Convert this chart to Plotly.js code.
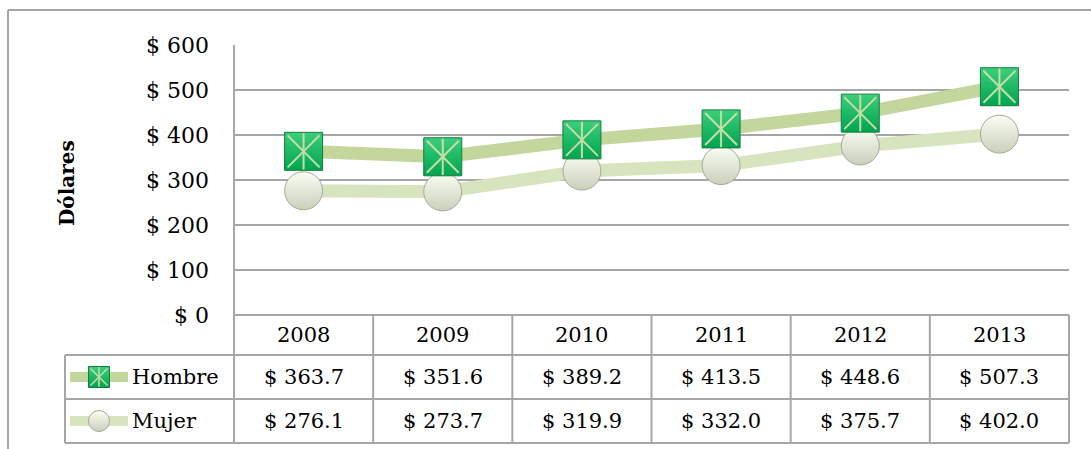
<!DOCTYPE html>
<html>
<head>
<meta charset="utf-8">
<script src="https://cdn.plot.ly/plotly-3.0.1.min.js"></script>
<style>
html,body{margin:0;padding:0;background:#fff;}
#chart{width:1091px;height:449px;}
</style>
</head>
<body>
<div id="chart"></div>
<script>
// ---- data ----
const years = ['2008', '2009', '2010', '2011', '2012', '2013'];
const hombre = [363.7, 351.6, 389.2, 413.5, 448.6, 507.3];
const mujer = [276.1, 273.7, 319.9, 332.0, 375.7, 402.0];
const seriesNames = ['Hombre', 'Mujer'];
const yTicks = [0, 100, 200, 300, 400, 500, 600];
const yTickText = ['$ 0', '$ 100', '$ 200', '$ 300', '$ 400', '$ 500', '$ 600'];
const yTitle = 'Dólares';

// ---- layout helpers (pixel -> paper) ----
const W = 1091, H = 449;
const px = x => x / W;
const py = y => 1 - y / H;
const PL = 234, PR = 1069, PT = 45, PB = 315;
const FONT = 'DejaVu Serif';
const GRID = '#a6a6a6';

const colH = '#c3d69b', colM = '#d7e4bd';
const sqTop = '#3ccf7c', sqBot = '#00a44f', sqEdge = '#137d42', sqMark = '#c8dcaa';
const ciTop = '#fbfdf3', ciBot = '#c9d0bb', ciEdge = '#a3ab98';

const traces = [
  {x: years, y: hombre, mode: 'lines', line: {color: colH, width: 13}, hoverinfo: 'skip'},
  {x: years, y: mujer, mode: 'lines', line: {color: colM, width: 13}, hoverinfo: 'skip'},
  {x: years, y: mujer, mode: 'markers', hoverinfo: 'skip',
   marker: {symbol: 'circle', size: 38, color: ciTop,
            gradient: {type: 'vertical', color: ciBot},
            line: {color: ciEdge, width: 1}}},
  {x: years, y: hombre, mode: 'markers', hoverinfo: 'skip',
   marker: {symbol: 'square', size: 38, color: sqTop,
            gradient: {type: 'vertical', color: sqBot},
            line: {color: sqEdge, width: 1}}},
  {x: years, y: hombre, mode: 'markers', hoverinfo: 'skip',
   marker: {symbol: 'x-thin-open', size: 32, color: sqMark, line: {width: 2}}},
  {x: years, y: hombre, mode: 'markers', hoverinfo: 'skip',
   marker: {symbol: 'line-ns-open', size: 26, color: sqMark, line: {width: 2}}},
  // legend samples in the table
  {x: [0, 1], y: [1.5, 1.5], xaxis: 'x2', yaxis: 'y2', mode: 'lines', line: {color: colH, width: 10}, hoverinfo: 'skip'},
  {x: [0, 1], y: [0.5, 0.5], xaxis: 'x2', yaxis: 'y2', mode: 'lines', line: {color: colM, width: 10}, hoverinfo: 'skip'},
  {x: [0.5], y: [1.5], xaxis: 'x2', yaxis: 'y2', mode: 'markers', hoverinfo: 'skip',
   marker: {symbol: 'square', size: 21, color: sqTop, gradient: {type: 'vertical', color: sqBot}, line: {color: sqEdge, width: 1}}},
  {x: [0.5], y: [1.5], xaxis: 'x2', yaxis: 'y2', mode: 'markers', hoverinfo: 'skip',
   marker: {symbol: 'x-thin-open', size: 17, color: sqMark, line: {width: 1.5}}},
  {x: [0.5], y: [1.5], xaxis: 'x2', yaxis: 'y2', mode: 'markers', hoverinfo: 'skip',
   marker: {symbol: 'line-ns-open', size: 14, color: sqMark, line: {width: 1.5}}},
  {x: [0.5], y: [0.5], xaxis: 'x2', yaxis: 'y2', mode: 'markers', hoverinfo: 'skip',
   marker: {symbol: 'circle', size: 21, color: ciTop, gradient: {type: 'vertical', color: ciBot}, line: {color: ciEdge, width: 1}}}
];

// ---- table shapes ----
const shapes = [];
const line = (x0, y0, x1, y1, c, w) => shapes.push({type: 'line', xref: 'paper', yref: 'paper',
  x0: px(x0), y0: py(y0), x1: px(x1), y1: py(y1), line: {color: c || GRID, width: w || 2}, layer: 'below'});
// outer frame
line(8, 10, W, 10, '#a6a6a6', 2);
line(8, 10, 8, H, '#a6a6a6', 2);
// table
const rowTop = 355, rowMid = 399, rowBot = 443, legL = 65;
line(PL, PB, PR, PB);
line(legL, rowTop, PR, rowTop);
line(legL, rowMid, PR, rowMid);
line(legL, rowBot, PR, rowBot);
line(legL, rowTop, legL, rowBot);
line(PL, PT, PL, rowBot);
const cw = (PR - PL) / years.length;
for (let i = 1; i <= years.length; i++) line(PL + i * cw, PB, PL + i * cw, rowBot);

// ---- table text ----
const annotations = [];
const fmt = v => '$ ' + v.toFixed(1);
const rowsY = [335, 377, 421];
years.forEach((yr, i) => {
  const cx = px(PL + (i + 0.5) * cw);
  annotations.push({xref: 'paper', yref: 'paper', x: cx, y: py(rowsY[0]), text: yr, showarrow: false, xanchor: 'center', yanchor: 'middle'});
  annotations.push({xref: 'paper', yref: 'paper', x: cx, y: py(rowsY[1]), text: fmt(hombre[i]), showarrow: false, xanchor: 'center', yanchor: 'middle'});
  annotations.push({xref: 'paper', yref: 'paper', x: cx, y: py(rowsY[2]), text: fmt(mujer[i]), showarrow: false, xanchor: 'center', yanchor: 'middle'});
});
seriesNames.forEach((n, k) => annotations.push({xref: 'paper', yref: 'paper', x: px(130), y: py(rowsY[k + 1]),
  text: n, showarrow: false, xanchor: 'left', yanchor: 'middle'}));
annotations.push({xref: 'paper', yref: 'paper', x: px(67), y: py(183), text: '<b>' + yTitle + '</b>',
  textangle: -90, showarrow: false, xanchor: 'center', yanchor: 'middle', font: {size: 20}});

const layout = {
  width: W, height: H,
  margin: {l: 0, r: 0, t: 0, b: 0},
  paper_bgcolor: '#ffffff', plot_bgcolor: 'rgba(0,0,0,0)',
  showlegend: false,
  font: {family: FONT, size: 21, color: '#000'},
  xaxis: {domain: [px(PL), px(PR)], type: 'category', range: [-0.5, years.length - 0.5],
          showticklabels: false, showgrid: false, zeroline: false, showline: false, ticks: '', fixedrange: true, automargin: false},
  yaxis: {domain: [py(PB), py(PT)], range: [0, 600], tickmode: 'array', tickvals: yTicks, ticktext: yTickText,
          showgrid: true, gridcolor: GRID, gridwidth: 2, zeroline: false, showline: false, ticks: '',
          ticklabelstandoff: 24, tickfont: {size: 22}, automargin: false, fixedrange: true},
  xaxis2: {domain: [px(70), px(128)], range: [0, 1], visible: false, anchor: 'y2', fixedrange: true},
  yaxis2: {domain: [py(rowBot), py(rowTop)], range: [0, 2], visible: false, anchor: 'x2', fixedrange: true},
  shapes: shapes,
  annotations: annotations
};

Plotly.newPlot('chart', traces, layout, {displayModeBar: false, staticPlot: true});
</script>
</body>
</html>
